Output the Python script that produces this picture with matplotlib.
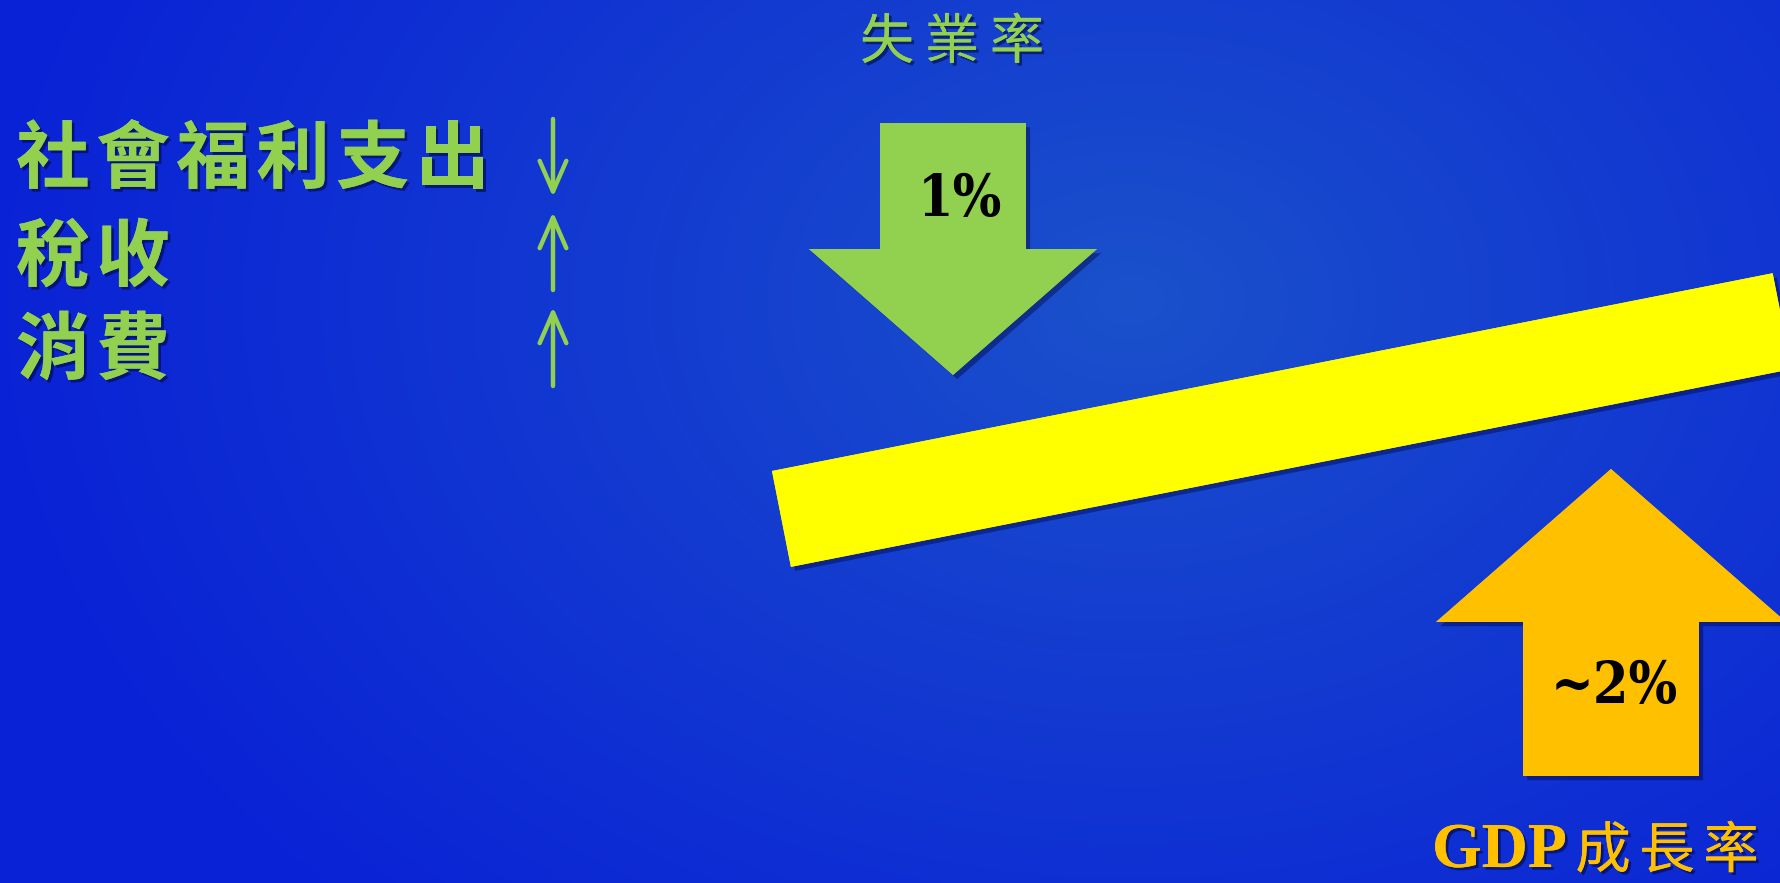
import numpy as np
import matplotlib
matplotlib.use("Agg")
import matplotlib.pyplot as plt
from matplotlib.patches import Polygon
from matplotlib import patheffects as pe
from matplotlib import font_manager as fm

# ---- content ----
policy_items = ["社會福利支出", "稅收", "消費"]
policy_dirs = [-1, 1, 1]          # -1 = down, +1 = up
unemp_label = "失業率"
unemp_value = "1%"
gdp_label_latin = "GDP"
gdp_label_cjk = "成長率"
gdp_value = "~2%"

GREEN = "#92D050"
ORANGE = "#FFC000"
YELLOW = "#FFFF00"

# pick a narrow (bold) serif font for the percentages if one is installed
def pick_narrow():
    cands = []
    for f in fm.fontManager.ttflist:
        nm = (f.fname or "").lower().rsplit("/", 1)[-1]
        if ("condensed" in nm or "narrow" in nm) and "serif" in nm and "oblique" not in nm and "italic" not in nm:
            cands.append(((not ("bold" in nm)), f.fname))
    if cands:
        cands.sort()
        return fm.FontProperties(fname=cands[0][1])
    for f in fm.fontManager.ttflist:
        nm = (f.fname or "").lower()
        if "liberationsansnarrow-bold." in nm:
            return fm.FontProperties(fname=f.fname)
    return None

narrow = pick_narrow()

W, H = 1781, 883
fig = plt.figure(figsize=(W / 100, H / 100), dpi=100)
ax = fig.add_axes([0, 0, 1, 1])
ax.set_xlim(0, W)
ax.set_ylim(H, 0)
ax.axis("off")

# background radial gradient
yy, xx = np.mgrid[0:H, 0:W]
cx, cy = 1130, 300
d = np.sqrt(((xx - cx) / 1150.0) ** 2 + ((yy - cy) / 850.0) ** 2)
d = np.clip(d, 0, 1) ** 0.9
inner = np.array([0x1B, 0x52, 0xCB]) / 255.0
outer = np.array([0x0A, 0x22, 0xD6]) / 255.0
img = inner[None, None, :] * (1 - d[..., None]) + outer[None, None, :] * d[..., None]
ax.imshow(img, extent=(0, W, H, 0), zorder=0, aspect="auto")

shadow = [pe.withSimplePatchShadow(offset=(3, -3), shadow_rgbFace="#000033", alpha=0.4), pe.Normal()]
tshadow = [pe.withSimplePatchShadow(offset=(2, -2), shadow_rgbFace="#000022", alpha=0.5), pe.Normal()]

cjk = ["Noto Sans CJK TC", "DejaVu Sans"]

# left policy list (one glyph at a time for the wide letter spacing)
row_y = [161, 259, 352]
arrow_spans = [(119, 197), (212, 290), (307, 386)]
for txt, yv in zip(policy_items, row_y):
    for i, ch in enumerate(txt):
        ax.text(53 + 80 * i, yv, ch, fontsize=53, fontweight="bold", color=GREEN,
                family=cjk, ha="center", va="center", path_effects=tshadow, zorder=5)

for dirn, (top, bot) in zip(policy_dirs, arrow_spans):
    if dirn < 0:
        tail, tip = (553, top), (553, bot)
    else:
        tail, tip = (553, bot), (553, top)
    ax.annotate("", xy=tip, xytext=tail,
                arrowprops=dict(arrowstyle="->,head_length=1.1,head_width=0.48",
                                lw=3.2, color=GREEN, mutation_scale=20,
                                shrinkA=0, shrinkB=0),
                zorder=5)

def block_arrow(xc, shaft_w, head_w, y_base, y_head, y_tip, color):
    pts = [(xc - shaft_w / 2, y_base), (xc + shaft_w / 2, y_base),
           (xc + shaft_w / 2, y_head), (xc + head_w / 2, y_head),
           (xc, y_tip), (xc - head_w / 2, y_head), (xc - shaft_w / 2, y_head)]
    p = Polygon(pts, closed=True, facecolor=color, edgecolor="none", zorder=3)
    p.set_path_effects(shadow)
    ax.add_patch(p)

def pct_text(x, y, s):
    if narrow is not None:
        ax.text(x, y, s, fontproperties=narrow, fontsize=41, color="black",
                ha="center", va="center", zorder=6)
    else:
        ax.text(x, y, s, fontsize=42, color="black", family="Liberation Serif",
                ha="center", va="center", zorder=6)

# unemployment arrow (down)
block_arrow(953, 146, 288, 123, 249, 375, GREEN)
for i, ch in enumerate(unemp_label):
    ax.text(887 + 65 * i, 43, ch, fontsize=39, color=GREEN, family=cjk,
            ha="center", va="center", path_effects=tshadow, zorder=5)
pct_text(960, 200, unemp_value)

# GDP arrow (up)
block_arrow(1611, 176, 350, 776, 622, 469, ORANGE)
pct_text(1614, 687, gdp_value)
ax.text(1432, 852, gdp_label_latin, fontsize=46, color=ORANGE, family="Liberation Serif",
        fontweight="bold", ha="left", va="center", path_effects=tshadow, zorder=5)
for i, ch in enumerate(gdp_label_cjk):
    ax.text(1603 + 64 * i, 852, ch, fontsize=40, color=ORANGE, family=cjk,
            ha="center", va="center", path_effects=tshadow, zorder=5)

# tilted yellow beam (seesaw)
p0 = np.array([772.0, 471.0])
ang = np.deg2rad(-11.18)
length, thick = 1020.0, 97.7
u = np.array([np.cos(ang), np.sin(ang)])
n = np.array([-np.sin(ang), np.cos(ang)])
beam = [p0, p0 + u * length, p0 + u * length + n * thick, p0 + n * thick]
bp = Polygon(beam, closed=True, facecolor=YELLOW, edgecolor="none", zorder=4)
bp.set_path_effects(shadow)
ax.add_patch(bp)

fig.savefig("out.png", dpi=100)
